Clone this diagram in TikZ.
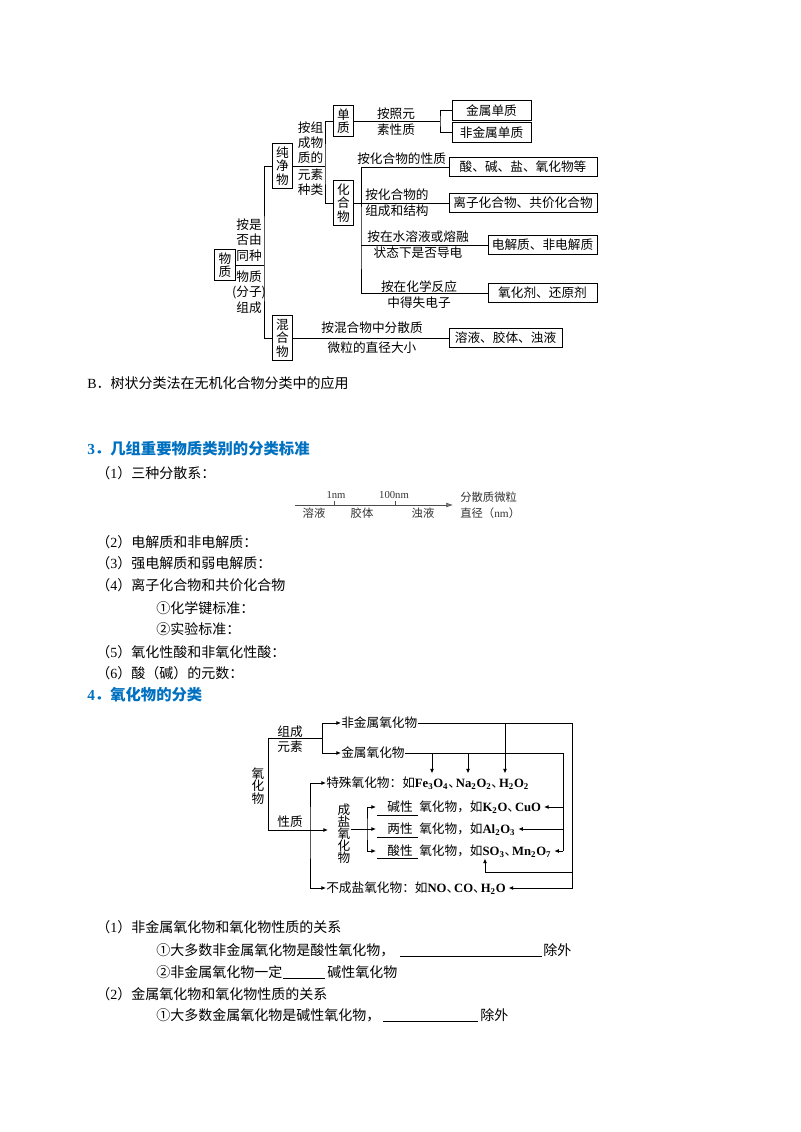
\documentclass[tikz,border=0pt]{standalone}
\usepackage{fontspec}
\setmainfont{Noto Sans CJK SC}
\newfontfamily\tms{Liberation Serif}
\usetikzlibrary{positioning,calc,arrows.meta}
\definecolor{biaoti}{RGB}{0,112,192}
\newcommand{\xb}[1]{\textsubscript{#1}}
\newcommand{\hx}[1]{{\tms\bfseries #1}}
\newcommand{\dun}{\makebox[0.6em][l]{、}}

\begin{document}
\begin{tikzpicture}[x=0.75pt,y=-0.75pt,
  xian/.style={line width=0.7pt},
  kuang/.style={draw,line width=0.7pt,inner sep=1pt,minimum height=14.6pt,font=\fontsize{9.5}{11}\selectfont},
  shu/.style={draw,line width=0.7pt,align=center,inner xsep=2.8pt,inner ysep=2.5pt,font=\fontsize{9.5}{10}\selectfont},
  zi/.style={inner sep=0pt,align=center,font=\fontsize{9.5}{#1}\selectfont},
  zi/.default=12pt,
  zw/.style={anchor=west,inner sep=0pt,font=\fontsize{10.5}{12}\selectfont},
  bt/.style={anchor=west,inner sep=0pt,text=biaoti,font=\fontsize{11.5}{13}\selectfont\bfseries},
  yh/.style={inner sep=0pt,font=\fontsize{9.5}{11}\selectfont},
  jt/.style={-{Latex[length=3.5pt,width=3pt]}},
  jt2/.style={{Latex[length=3.5pt,width=3pt]}-{Latex[length=3.5pt,width=3pt]}}]
\useasboundingbox (0,0) rectangle (800,1132);

% arbre de classement
\node[shu] (wuzhi) at (225,265) {物\\质};
\node[shu] (chunjing) at (282.5,166) {纯\\净\\物};
\node[shu] (hunhe) at (282.5,338) {混\\合\\物};
\node[shu] (danzhi) at (343.5,121) {单\\质};
\node[shu] (huahe) at (343.5,203) {化\\合\\物};
\node[kuang,minimum width=59.3pt] (jsdz) at (491.5,110.5) {金属单质};
\node[kuang,minimum width=59.3pt] (fjsdz) at (491.5,132.5) {非金属单质};
\node[kuang,minimum width=111pt] (sjy) at (523,167) {酸、碱、盐、氧化物等};
\node[kuang,minimum width=111pt] (lzhh) at (523,203) {离子化合物、共价化合物};
\node[kuang,minimum width=81.8pt] (djz) at (542.5,245) {电解质、非电解质};
\node[kuang,minimum width=81.8pt] (yhj) at (542.5,293) {氧化剂、还原剂};
\node[kuang,minimum width=84.8pt] (rongye) at (505.5,338) {溶液、胶体、浊液};
\coordinate (j1) at (264,265);
\coordinate (j2) at (325,166);
\coordinate (j3) at (440,121);
\coordinate (j4) at (361,245);
\draw[xian] (wuzhi.east) -- (j1);
\draw[xian] (chunjing.west) -| (j1) |- (hunhe.west);
\draw[xian] (chunjing.east) -- (j2);
\draw[xian] (danzhi.west) -| (j2) |- (huahe.west);
\draw[xian] (danzhi.east) -- (j3);
\draw[xian] (jsdz.west) -| (j3) |- (fjsdz.west);
\draw[xian] (huahe.east) -- (lzhh.west);
\draw[xian] (sjy.west) -| (j4) |- (yhj.west);
\draw[xian] (j4) -- (djz.west);
\draw[xian] (hunhe.east) -- (rongye.west);
\node[zi=11.25pt] (l1) at (310.5,143) {按组\\成物\\质的};
\node[zi=11.25pt] (l2) at (310.5,182.5) {元素\\种类};
\node[zi=11.5pt] (l3) at (249,240) {按是\\否由\\同种};
\node[zi=11.5pt] (l4) at (249,292) {物质\\(分子)\\组成};
\node[zi] (l5) at (396,122) {按照元\\素性质};
\node[zi,anchor=west] (l6) at (357,159) {按化合物的性质};
\node[zi,align=left,anchor=west] (l7) at (365,203) {按化合物的\\组成和结构};
\node[zi] (l8) at (418,245) {按在水溶液或熔融\\状态下是否导电};
\node[zi] (l9) at (419,294.5) {按在化学反应\\中得失电子};
\node[zi=15pt] (l10) at (372,338) {按混合物中分散质\\微粒的直径大小};

% texte
\node[zw] (tB) at (87,383) {{\tms B}．树状分类法在无机化合物分类中的应用};
\node[bt] (t3) at (87,449) {{\tms 3}．几组重要物质类别的分类标准};
\node[zw] (s1) at (96,473) {（{\tms 1}）三种分散系：};
\node[zw] (s2) at (96,542) {（{\tms 2}）电解质和非电解质：};
\node[zw] (s3) at (96,563) {（{\tms 3}）强电解质和弱电解质：};
\node[zw] (s4) at (96,585) {（{\tms 4}）离子化合物和共价化合物};
\node[zw] (s4a) at (156,608) {①化学键标准：};
\node[zw] (s4b) at (156,629) {②实验标准：};
\node[zw] (s5) at (96,652) {（{\tms 5}）氧化性酸和非氧化性酸：};
\node[zw] (s6) at (96,673) {（{\tms 6}）酸（碱）的元数：};
\node[bt] (t4) at (87,695) {{\tms 4}．氧化物的分类};

% axe des diametres
\coordinate (z0) at (295,505);
\coordinate (z1) at (453,505);
\draw[black!70,line width=0.5pt,-{Latex[length=5pt,width=3.5pt,fill=black!45]}] (z0) -- (z1);
\draw[black!70,line width=0.5pt] (334,505) -- (334,501);
\draw[black!70,line width=0.5pt] (395,505) -- (395,501);
\node[inner sep=0pt,text=black!80,font=\tms\fontsize{8}{9}\selectfont] (nm1) at (336,495) {1nm};
\node[inner sep=0pt,text=black!80,font=\tms\fontsize{8}{9}\selectfont] (nm2) at (394,495) {100nm};
\node[inner sep=0pt,text=black!80,font=\fontsize{8.5}{10}\selectfont] (ry) at (314,513) {溶液};
\node[inner sep=0pt,text=black!80,font=\fontsize{8.5}{10}\selectfont] (jt) at (362,513) {胶体};
\node[inner sep=0pt,text=black!80,font=\fontsize{8.5}{10}\selectfont] (zy) at (423,513) {浊液};
\node[anchor=west,inner sep=0pt,text=black!80,font=\fontsize{8.5}{10}\selectfont] (fs1) at (460,497) {分散质微粒};
\node[anchor=west,inner sep=0pt,text=black!80,font=\fontsize{8.5}{10}\selectfont] (fs2) at (460,513) {直径（{\tms nm}）};

% oxydes
\node[yh,align=center,font=\fontsize{9.5}{9.5}\selectfont] (yhw) at (258,786) {氧\\化\\物};
\coordinate (k1) at (268,738);
\coordinate (k2) at (268,830);
\coordinate (k3) at (322,738);
\coordinate (k4) at (310,830);
\coordinate (k5) at (328,830);
\draw[xian] (k1) -- (k2);
\draw[xian] (k1) -- (k3);
\node[yh,align=center,font=\fontsize{9.5}{11.25}\selectfont] (zcys) at (290,739.5) {组成\\元素};
\node[yh] (xz) at (290,822) {性质};
\node[yh,anchor=west] (fjs) at (341,723) {非金属氧化物};
\node[yh,anchor=west] (js) at (341,753) {金属氧化物};
\draw[xian,jt] (k3) |- (fjs.west);
\draw[xian,jt] (k3) |- (js.west);
\node[yh,anchor=west] (tsh) at (326,783) {特殊氧化物：如\hx{Fe\xb{3}O\xb{4}}\dun\hx{Na\xb{2}O\xb{2}}\dun\hx{H\xb{2}O\xb{2}}};
\node[yh,anchor=west] (bcy) at (326,888) {不成盐氧化物：如\hx{NO}\dun\hx{CO}\dun\hx{H\xb{2}O}};
\draw[xian,jt2] (tsh.west) -| (k4) |- (bcy.west);
\node[yh,align=center,font=\fontsize{9.5}{9}\selectfont] (cy) at (344,834) {成\\盐\\氧\\化\\物};
\draw[xian,jt] (k2) -- (k5);
\node[yh] (jx) at (400,807) {碱性};
\node[yh] (lx) at (400,829) {两性};
\node[yh] (sx) at (400,851) {酸性};
\draw[line width=0.6pt] (377,815) -- (418,815);
\draw[line width=0.6pt] (377,837) -- (418,837);
\draw[line width=0.6pt] (377,858) -- (418,858);
\node[yh,anchor=west] (jxw) at (419,807) {氧化物，如\hx{K\xb{2}O}\dun\hx{CuO}};
\node[yh,anchor=west] (lxw) at (419,829) {氧化物，如\hx{Al\xb{2}O\xb{3}}};
\node[yh,anchor=west] (sxw) at (419,851) {氧化物，如\hx{SO\xb{3}}\dun\hx{Mn\xb{2}O\xb{7}}};
\coordinate (k8) at (367,829);
\coordinate (m1) at (376,807);
\coordinate (m2) at (376,829);
\coordinate (m3) at (376,851);
\draw[xian,jt2] (m1) -| (k8) |- (m3);
\draw[xian,jt] (cy.east |- m2) -- (m2);
\coordinate (r1) at (572,723);
\coordinate (r2) at (563,753);
\coordinate (r3) at (485,872);
\draw[xian,jt] (fjs.east) -- (r1) |- ([xshift=2pt]bcy.east);
\draw[xian,jt] (r1 |- r3) -- (r3) -- ($(r3 |- sxw.south)+(0,1)$);
\draw[xian] (js.east) -- (r2) -- (r2 |- sxw.east);
\draw[xian,jt] (r2 |- jxw.east) -- ([xshift=2pt]jxw.east);
\draw[xian,jt] (r2 |- lxw.east) -- ([xshift=2pt]lxw.east);
\draw[xian,jt] (r2 |- sxw.east) -- ([xshift=2pt]sxw.east);
\coordinate (d1) at (432,753);
\coordinate (d2) at (468,753);
\coordinate (d3) at (505,723);
\draw[xian,jt] (d1) -- ($(d1 |- tsh.north)+(0,-3)$);
\draw[xian,jt] (d2) -- ($(d2 |- tsh.north)+(0,-3)$);
\draw[xian,jt] (d3) -- ($(d3 |- tsh.north)+(0,-3)$);

% questions
\node[zw] (q1) at (96,927) {（{\tms 1}）非金属氧化物和氧化物性质的关系};
\node[zw] (q1a) at (156,950) {①大多数非金属氧化物是酸性氧化物，};
\draw[line width=0.6pt] (400,956) -- (542,956);
\node[zw] (q1c) at (543,950) {除外};
\node[zw] (q1b) at (156,972) {②非金属氧化物一定};
\draw[line width=0.6pt] (283,978) -- (325,978);
\node[zw] (q1d) at (327,972) {碱性氧化物};
\node[zw] (q2) at (96,994) {（{\tms 2}）金属氧化物和氧化物性质的关系};
\node[zw] (q2a) at (156,1015) {①大多数金属氧化物是碱性氧化物，};
\draw[line width=0.6pt] (383,1021) -- (478,1021);
\node[zw] (q2c) at (480,1015) {除外};
\end{tikzpicture}
\end{document}
